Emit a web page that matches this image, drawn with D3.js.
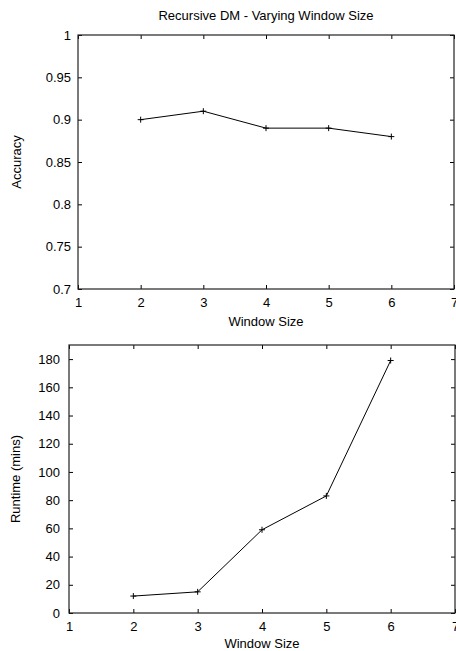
<!DOCTYPE html>
<html>
<head>
<meta charset="utf-8">
<script src="https://cdn.jsdelivr.net/npm/d3@7"></script>
<style>
  body { margin: 0; background: #fff; }
  svg text { font-family: "Liberation Sans", Arial, sans-serif; font-size: 13px; fill: #000; }
</style>
</head>
<body>
<div id="chart"></div>
<script>
// datos
let windowSizes = [2, 3, 4, 5, 6];
let accuracy = [0.90, 0.91, 0.89, 0.89, 0.88];
let runtime = [12, 15, 59, 83, 179];
let xTicks = [1, 2, 3, 4, 5, 6, 7];
let accTicks = [0.7, 0.75, 0.8, 0.85, 0.9, 0.95, 1];
let runTicks = [0, 20, 40, 60, 80, 100, 120, 140, 160, 180];

let width = 456, height = 651;
let tickLen = 4;

let svg = d3.select("#chart").append("svg")
  .attr("width", width)
  .attr("height", height);

svg.append("text")
  .attr("x", 266).attr("y", 20)
  .attr("text-anchor", "middle")
  .text("Recursive DM - Varying Window Size");

// un panel: caja, ticks hacia dentro en los 4 lados, linea y cruces
function panel(cfg){
  let x = d3.scaleLinear().domain([1, 7]).range([cfg.left, cfg.right]);
  let y = d3.scaleLinear().domain(cfg.yDomain).range([cfg.bottom, cfg.top]);
  let g = svg.append("g");

  g.append("g")
    .attr("transform", "translate(0," + cfg.bottom + ")")
    .call(d3.axisBottom(x).tickValues(xTicks).tickSizeInner(-tickLen).tickSizeOuter(0)
      .tickPadding(9).tickFormat(d3.format("d")));
  g.append("g")
    .attr("transform", "translate(0," + cfg.top + ")")
    .call(d3.axisTop(x).tickValues(xTicks).tickSizeInner(-tickLen).tickSizeOuter(0).tickFormat(""));
  g.append("g")
    .attr("transform", "translate(" + cfg.left + ",0)")
    .call(d3.axisLeft(y).tickValues(cfg.yTicks).tickSizeInner(-tickLen).tickSizeOuter(0)
      .tickPadding(cfg.yPad).tickFormat(d => String(+d.toFixed(2))));
  g.append("g")
    .attr("transform", "translate(" + cfg.right + ",0)")
    .call(d3.axisRight(y).tickValues(cfg.yTicks).tickSizeInner(-tickLen).tickSizeOuter(0).tickFormat(""));

  g.selectAll(".domain").remove();
  g.selectAll(".tick line").attr("stroke", "#000");
  g.selectAll(".tick text").attr("fill", "#000").style("font-size", "13px")
    .style("font-family", '"Liberation Sans", Arial, sans-serif');

  g.append("rect")
    .attr("x", cfg.left).attr("y", cfg.top)
    .attr("width", cfg.right - cfg.left).attr("height", cfg.bottom - cfg.top)
    .attr("fill", "none").attr("stroke", "#222").attr("stroke-width", 1.2);

  let pts = windowSizes.map((w, i) => [x(w), y(cfg.values[i])]);
  g.append("path")
    .attr("d", d3.line()(pts))
    .attr("fill", "none").attr("stroke", "#000").attr("stroke-width", 1);
  g.selectAll("path.mark").data(pts).enter()
    .append("path").attr("class", "mark")
    .attr("d", d => "M" + (d[0] - 3) + "," + d[1] + "h6M" + d[0] + "," + (d[1] - 3) + "v6")
    .attr("stroke", "#000").attr("stroke-width", 1);

  g.append("text")
    .attr("x", (cfg.left + cfg.right) / 2).attr("y", cfg.bottom + cfg.xLabelDy)
    .attr("text-anchor", "middle")
    .text("Window Size");
  g.append("text")
    .attr("transform", "translate(" + cfg.yLabelX + "," + (cfg.top + cfg.bottom) / 2 + ") rotate(-90)")
    .attr("text-anchor", "middle")
    .text(cfg.yLabel);
}

panel({left: 78, right: 454, top: 35, bottom: 289, yDomain: [0.7, 1], xLabelDy: 37,
  yTicks: accTicks, values: accuracy, yPad: 7, yLabel: "Accuracy", yLabelX: 21});
panel({left: 69, right: 455, top: 345, bottom: 613, yDomain: [0, 190], xLabelDy: 35,
  yTicks: runTicks, values: runtime, yPad: 9, yLabel: "Runtime (mins)", yLabelX: 20});
</script>
</body>
</html>
